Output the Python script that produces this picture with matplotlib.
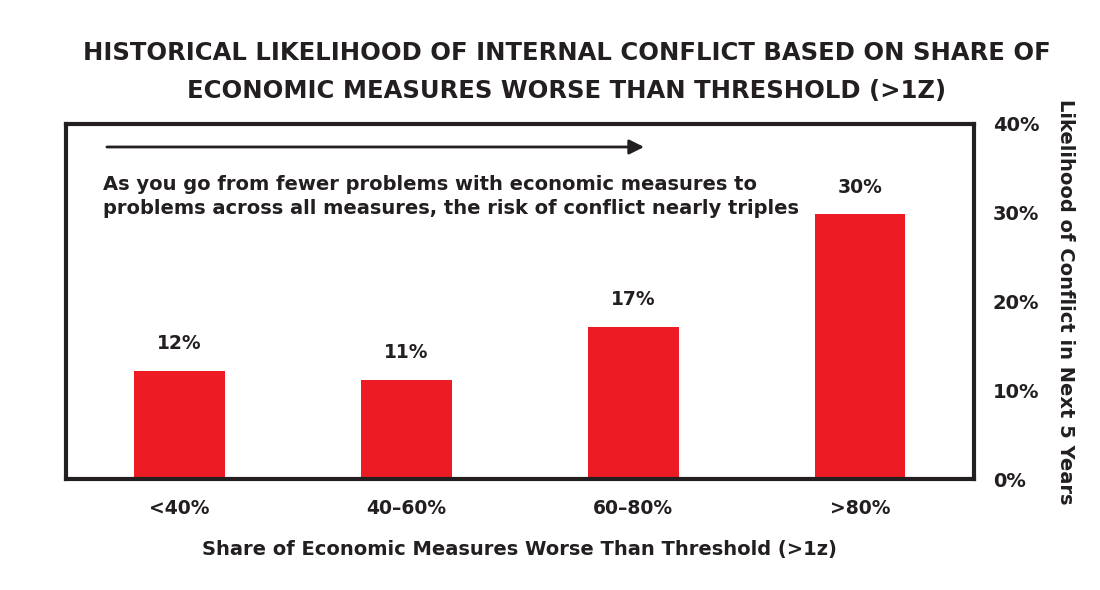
import matplotlib
matplotlib.use("Agg")
import matplotlib.pyplot as plt
import numpy as np

categories = ["<40%", "40\u201360%", "60\u201380%", ">80%"]
likelihood = [12.2, 11.2, 17.1, 29.8]
bar_labels = ["12%", "11%", "17%", "30%"]
yticks = [0, 10, 20, 30, 40]

red = "#ED1C24"
ink = "#231F20"

plt.rcParams["font.family"] = ["DejaVu Sans"]
plt.rcParams["font.weight"] = "bold"

fig = plt.figure(figsize=(11, 5.9), dpi=100)
ax = fig.add_axes([0.06, 0.188, 0.825, 0.602])

x = np.arange(len(categories))
ax.bar(x, likelihood, width=0.4, color=red, zorder=2)
for xi, v, lab in zip(x, likelihood, bar_labels):
    ax.text(xi, v + 2.0, lab, ha="center", va="bottom", fontsize=13.5,
            fontweight="bold", color=ink)

ax.set_xlim(-0.5, 3.5)
ax.set_ylim(0, 40)
ax.set_xticks(x)
ax.set_xticklabels(categories, fontsize=13.5, fontweight="bold", color=ink)
ax.set_yticks(yticks)
ax.set_yticklabels([f"{t}%" for t in yticks], fontsize=14,
                   fontweight="bold", color=ink)
ax.yaxis.tick_right()
ax.yaxis.set_label_position("right")
ax.tick_params(axis="y", length=0, pad=14)
ax.tick_params(axis="x", length=0, pad=14)

for s in ax.spines.values():
    s.set_linewidth(3)
    s.set_color(ink)

ax.set_xlabel("Share of Economic Measures Worse Than Threshold (>1z)",
              fontsize=14, fontweight="bold", color=ink, labelpad=16)
ax.set_ylabel("Likelihood of Conflict in Next 5 Years", fontsize=14,
              fontweight="bold", color=ink, rotation=270, labelpad=26)
ax.yaxis.set_label_coords(1.112, 0.5)

ax.annotate("", xy=(0.64, 0.935), xytext=(0.042, 0.935),
            xycoords="axes fraction",
            arrowprops=dict(arrowstyle="-|>", color=ink, lw=2,
                            mutation_scale=22))
ax.text(0.041, 0.855,
        "As you go from fewer problems with economic measures to\n"
        "problems across all measures, the risk of conflict nearly triples",
        transform=ax.transAxes, ha="left", va="top", fontsize=14,
        fontweight="bold", color=ink, linespacing=1.3)

fig.text(0.515, 0.93,
         "HISTORICAL LIKELIHOOD OF INTERNAL CONFLICT BASED ON SHARE OF\n"
         "ECONOMIC MEASURES WORSE THAN THRESHOLD (>1Z)",
         ha="center", va="top", fontsize=17.5, fontweight="bold",
         color=ink, linespacing=1.7)

fig.savefig("out.png", dpi=100, facecolor="white")
